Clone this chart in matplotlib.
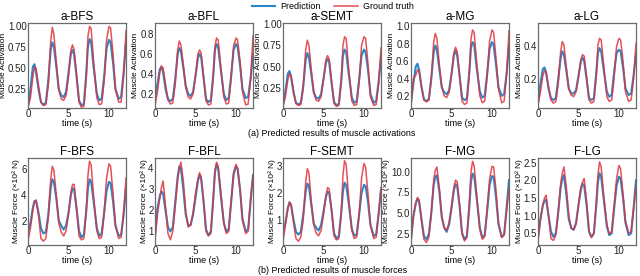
import matplotlib
matplotlib.use("Agg")
import matplotlib.pyplot as plt

plt.rcParams['font.family'] = ['Liberation Sans', 'DejaVu Sans']

t = [0.0, 0.3, 0.6, 0.8, 1.0, 1.3, 1.6, 1.9, 2.2, 2.5, 2.8, 3.0, 3.2, 3.5, 3.8, 4.1, 4.4, 4.7,
     5.0, 5.3, 5.5, 5.7, 6.0, 6.3, 6.6, 6.9, 7.2, 7.4, 7.6, 7.8, 8.1, 8.5, 8.8, 9.1, 9.4, 9.7,
     10.0, 10.2, 10.5, 10.8, 11.2, 11.5, 11.8, 12.1]

titles_a = ["a-BFS", "a-BFL", "a-SEMT", "a-MG", "a-LG"]
titles_f = ["F-BFS", "F-BFL", "F-SEMT", "F-MG", "F-LG"]

# activations: prediction / ground truth
a_bfs_pred = [0.05,0.25,0.52,0.55,0.45,0.25,0.10,0.07,0.09,0.35,0.72,0.81,0.76,0.52,0.25,0.18,0.16,0.22,0.45,0.68,0.72,0.66,0.40,0.12,0.06,0.08,0.45,0.76,0.85,0.81,0.52,0.20,0.12,0.14,0.40,0.74,0.84,0.81,0.57,0.25,0.14,0.16,0.45,0.80]
a_bfs_true = [0.04,0.15,0.40,0.52,0.50,0.30,0.10,0.06,0.07,0.30,0.82,0.99,0.90,0.57,0.25,0.14,0.12,0.18,0.40,0.72,0.78,0.72,0.42,0.10,0.04,0.05,0.40,0.88,1.00,0.97,0.58,0.15,0.07,0.08,0.35,0.84,1.00,0.98,0.67,0.25,0.10,0.10,0.40,0.95]
a_bfl_pred = [0.15,0.30,0.45,0.47,0.42,0.25,0.15,0.13,0.15,0.35,0.60,0.66,0.63,0.46,0.28,0.20,0.18,0.22,0.38,0.56,0.60,0.57,0.36,0.15,0.12,0.14,0.40,0.64,0.70,0.67,0.46,0.20,0.14,0.16,0.38,0.64,0.70,0.67,0.49,0.25,0.16,0.17,0.35,0.60]
a_bfl_true = [0.08,0.22,0.42,0.48,0.46,0.30,0.14,0.10,0.11,0.30,0.64,0.73,0.69,0.49,0.26,0.17,0.15,0.20,0.38,0.60,0.64,0.61,0.37,0.13,0.09,0.10,0.38,0.68,0.76,0.74,0.49,0.17,0.10,0.11,0.36,0.68,0.76,0.74,0.53,0.22,0.09,0.10,0.35,0.78]
a_semt_pred = [0.05,0.22,0.42,0.45,0.38,0.20,0.08,0.06,0.08,0.28,0.58,0.66,0.61,0.41,0.20,0.14,0.13,0.18,0.36,0.55,0.59,0.56,0.31,0.09,0.05,0.07,0.35,0.63,0.70,0.67,0.43,0.14,0.08,0.10,0.35,0.63,0.70,0.67,0.46,0.18,0.08,0.10,0.32,0.60]
a_semt_true = [0.04,0.15,0.35,0.42,0.40,0.22,0.07,0.05,0.06,0.25,0.70,0.81,0.75,0.46,0.20,0.11,0.10,0.15,0.35,0.58,0.63,0.59,0.33,0.07,0.04,0.05,0.35,0.75,0.85,0.83,0.49,0.10,0.05,0.06,0.32,0.75,0.85,0.83,0.53,0.15,0.05,0.06,0.30,0.72]
a_mg_pred = [0.12,0.35,0.54,0.57,0.50,0.30,0.16,0.14,0.16,0.40,0.70,0.78,0.73,0.51,0.30,0.24,0.22,0.26,0.45,0.67,0.72,0.67,0.43,0.18,0.15,0.17,0.48,0.75,0.82,0.79,0.53,0.25,0.18,0.20,0.45,0.74,0.82,0.79,0.56,0.30,0.20,0.22,0.45,0.78]
a_mg_true = [0.08,0.40,0.44,0.50,0.48,0.30,0.15,0.13,0.15,0.38,0.82,0.92,0.86,0.56,0.30,0.20,0.18,0.24,0.45,0.70,0.76,0.71,0.43,0.14,0.10,0.12,0.45,0.85,0.96,0.93,0.59,0.20,0.12,0.14,0.42,0.83,0.96,0.93,0.63,0.28,0.12,0.14,0.45,0.95]
a_lg_pred = [0.05,0.17,0.26,0.27,0.24,0.14,0.08,0.07,0.08,0.20,0.33,0.37,0.35,0.25,0.14,0.11,0.11,0.13,0.22,0.31,0.33,0.31,0.20,0.08,0.07,0.08,0.24,0.36,0.39,0.37,0.26,0.12,0.09,0.10,0.24,0.36,0.38,0.37,0.27,0.14,0.10,0.11,0.22,0.35]
a_lg_true = [0.04,0.12,0.22,0.25,0.24,0.15,0.07,0.05,0.06,0.17,0.37,0.43,0.41,0.27,0.14,0.10,0.09,0.12,0.21,0.32,0.35,0.34,0.21,0.07,0.05,0.06,0.22,0.41,0.45,0.44,0.29,0.09,0.06,0.07,0.21,0.40,0.45,0.44,0.31,0.12,0.06,0.07,0.20,0.42]

# forces (x10^2 N): prediction / ground truth
f_bfs_pred = [1.1,1.8,3.0,3.5,3.5,2.6,1.4,1.0,1.1,2.4,4.5,5.2,5.0,3.7,2.0,1.6,1.3,1.6,2.6,4.0,4.5,4.4,2.9,1.2,0.7,0.9,2.8,4.5,5.2,5.0,3.5,1.4,0.8,1.0,2.6,4.3,5.0,4.9,3.5,1.6,0.8,0.9,2.4,4.5]
f_bfs_true = [0.4,1.4,2.8,3.5,3.6,2.4,0.6,0.4,0.6,2.2,5.2,6.2,5.9,3.9,1.8,1.1,0.8,1.2,2.5,4.2,4.8,4.8,2.9,0.8,0.5,0.6,2.8,5.5,6.6,6.3,3.9,1.2,0.6,0.7,2.6,5.3,6.4,6.2,4.1,1.6,0.6,0.7,2.6,5.3]
f_bfl_pred = [0.8,2.1,2.7,2.9,2.8,2.0,1.2,1.0,1.2,2.4,3.6,4.1,4.0,3.0,1.8,1.3,1.3,1.8,2.6,3.4,3.7,3.5,2.4,1.1,0.8,1.0,2.6,3.8,4.2,4.0,2.8,1.4,1.0,1.1,2.4,3.7,4.1,4.0,3.0,1.6,1.0,1.1,2.4,3.7]
f_bfl_true = [0.6,1.8,2.6,3.1,3.4,2.2,0.9,0.6,1.0,2.2,3.5,4.0,4.3,3.4,1.9,1.2,1.3,1.9,2.8,3.5,3.8,3.6,2.4,1.0,0.8,0.9,2.6,3.9,4.3,4.1,3.0,1.4,0.9,1.0,2.4,3.8,4.2,4.0,3.0,1.5,0.9,1.0,2.6,3.6]
f_semt_pred = [0.5,0.9,1.45,1.65,1.55,1.0,0.55,0.45,0.55,1.2,2.05,2.35,2.25,1.55,0.85,0.7,0.6,0.8,1.3,1.85,2.05,2.0,1.35,0.5,0.3,0.4,1.3,2.05,2.38,2.3,1.65,0.65,0.4,0.45,1.2,2.0,2.3,2.25,1.65,0.8,0.4,0.45,1.2,2.1]
f_semt_true = [0.2,0.8,1.4,1.65,1.55,0.9,0.3,0.2,0.35,1.0,2.4,2.9,2.75,1.65,0.8,0.5,0.4,0.6,1.2,1.9,2.2,2.15,1.35,0.4,0.25,0.3,1.3,2.65,3.2,3.05,1.85,0.6,0.3,0.35,1.2,2.55,3.1,2.95,1.95,0.8,0.3,0.35,1.2,2.2]
f_mg_pred = [1.8,4.6,6.2,6.7,6.4,4.2,2.2,1.8,2.4,5.0,8.4,9.4,9.6,7.6,4.5,3.2,2.7,3.6,5.6,7.8,8.5,8.3,5.8,2.6,1.8,2.2,5.8,8.8,9.8,9.5,6.9,3.2,2.0,2.3,5.2,8.4,9.5,9.4,6.9,3.6,2.1,2.4,5.6,9.0]
f_mg_true = [1.4,4.8,6.3,6.9,6.6,4.0,1.8,1.4,2.0,4.8,9.0,10.2,10.6,8.0,4.6,3.2,2.9,3.8,5.8,8.2,9.0,8.8,6.0,2.4,1.6,2.0,6.0,9.9,11.3,10.7,7.3,3.0,1.8,2.1,5.4,9.1,10.7,10.6,7.7,3.8,2.0,2.3,5.2,8.0]
f_lg_pred = [0.4,0.9,1.3,1.42,1.45,1.0,0.55,0.4,0.5,1.1,1.8,2.05,2.15,1.6,0.9,0.65,0.6,0.8,1.3,1.75,1.9,1.85,1.3,0.55,0.4,0.5,1.3,1.95,2.2,2.1,1.5,0.7,0.45,0.5,1.2,1.85,2.1,2.05,1.5,0.8,0.45,0.5,1.2,2.0]
f_lg_true = [0.25,0.9,1.3,1.5,1.58,1.0,0.35,0.3,0.45,1.1,1.9,2.2,2.38,1.8,1.0,0.65,0.6,0.75,1.3,1.8,1.95,2.05,1.4,0.55,0.38,0.5,1.4,2.15,2.52,2.38,1.6,0.75,0.48,0.55,1.3,2.05,2.42,2.32,1.6,0.85,0.5,0.55,1.2,1.8]

a_pred = [a_bfs_pred, a_bfl_pred, a_semt_pred, a_mg_pred, a_lg_pred]
a_true = [a_bfs_true, a_bfl_true, a_semt_true, a_mg_true, a_lg_true]
f_pred = [f_bfs_pred, f_bfl_pred, f_semt_pred, f_mg_pred, f_lg_pred]
f_true = [f_bfs_true, f_bfl_true, f_semt_true, f_mg_true, f_lg_true]

a_ticks = [[0.25, 0.50, 0.75, 1.00], [0.2, 0.4, 0.6, 0.8], [0.25, 0.50, 0.75, 1.00],
           [0.2, 0.4, 0.6, 0.8, 1.0], [0.2, 0.4]]
a_ticklabels = [["0.25", "0.50", "0.75", "1.00"], ["0.2", "0.4", "0.6", "0.8"],
                ["0.25", "0.50", "0.75", "1.00"], ["0.2", "0.4", "0.6", "0.8", "1.0"], ["0.2", "0.4"]]
f_ticks = [[2, 4, 6], [1, 2, 3, 4], [1, 2, 3], [2.5, 5.0, 7.5, 10.0], [0.5, 1.0, 1.5, 2.0, 2.5]]
f_ticklabels = [["2", "4", "6"], ["1", "2", "3", "4"], ["1", "2", "3"],
                ["2.5", "5.0", "7.5", "10.0"], ["0.5", "1.0", "1.5", "2.0", "2.5"]]
a_ylims = [(0.03, 1.04), (0.06, 0.91), (0.02, 1.01), (0.06, 1.04), (0.02, 0.545)]
f_ylims = [(0.1, 6.85), (0.35, 4.5), (0.06, 3.3), (1.1, 11.7), (0.17, 2.63)]
x_ticks = [0, 5, 10]

BLUE = "#2b86c8"
RED = "#e0323c"

fig = plt.figure(figsize=(6.4, 2.76), dpi=100)
lefts = [28, 155, 283, 411, 538]
W = 98 / 640


def style(ax):
    for s in ax.spines.values():
        s.set_color("#6b6b6b")
        s.set_linewidth(0.9)
    ax.tick_params(length=0, pad=1.0, labelsize=7, colors="#222222")
    ax.set_xlim(0, 12.1)
    ax.set_xticks(x_ticks)
    ax.set_xlabel("time (s)", fontsize=6.5, labelpad=0)


for i in range(5):
    for row in range(2):
        if row == 0:
            ax = fig.add_axes([lefts[i] / 640, 1 - 108 / 276, W, 85 / 276])
            yp, yt, tt = a_pred[i], a_true[i], titles_a[i]
            ticks, labels, ylim = a_ticks[i], a_ticklabels[i], a_ylims[i]
            ylab = "Muscle Activation"
        else:
            ax = fig.add_axes([lefts[i] / 640, 1 - 245 / 276, W, 87 / 276])
            yp, yt, tt = f_pred[i], f_true[i], titles_f[i]
            ticks, labels, ylim = f_ticks[i], f_ticklabels[i], f_ylims[i]
            ylab = "Muscle Force (×10² N)"
        lp, = ax.plot(t, yp, color=BLUE, lw=1.5, label="Prediction")
        lt, = ax.plot(t, yt, color=RED, lw=1.1, alpha=0.85, label="Ground truth")
        style(ax)
        ax.set_ylim(*ylim)
        ax.set_yticks(ticks)
        ax.set_yticklabels(labels)
        ax.set_title(tt, fontsize=8.5, pad=2)
        ax.set_ylabel(ylab, fontsize=6.0, labelpad=0.5)

fig.legend([lp, lt], ["Prediction", "Ground truth"], loc="center", bbox_to_anchor=(0.52, 0.975),
           ncol=2, frameon=False, fontsize=6.5, handlelength=2.6, columnspacing=1.5,
           handletextpad=0.6, borderaxespad=0, borderpad=0.1)

fig.text(0.519, 0.515, "(a) Predicted results of muscle activations", ha="center", va="center", fontsize=6.5)
fig.text(0.519, 0.02, "(b) Predicted results of muscle forces", ha="center", va="center", fontsize=6.5)

fig.savefig("out.png", dpi=100)
